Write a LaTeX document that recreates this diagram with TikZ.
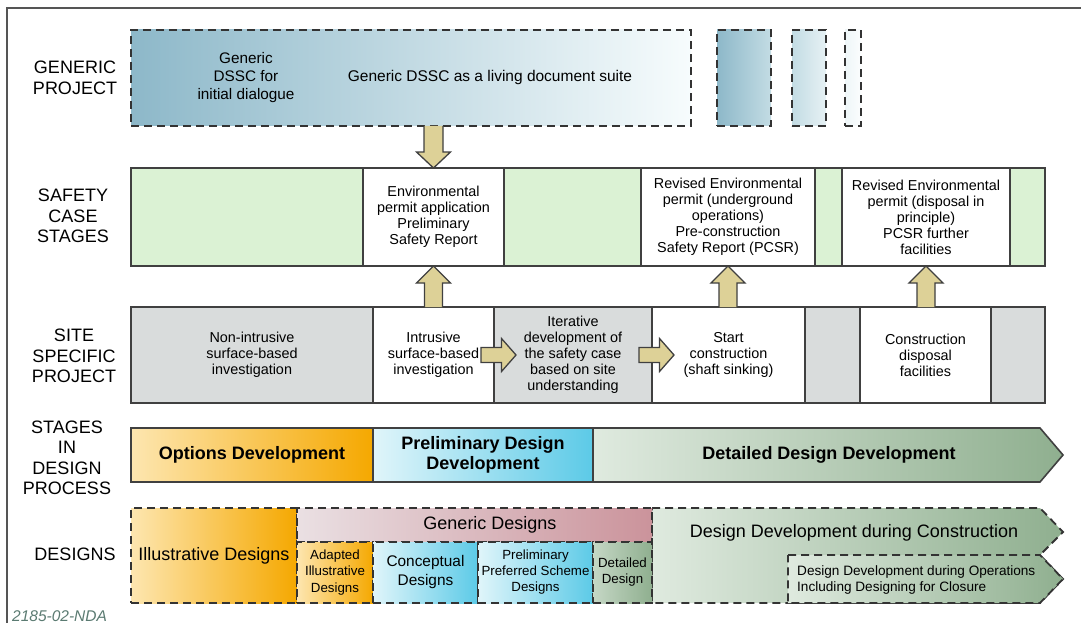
\documentclass[tikz,border=0pt]{standalone}
\usepackage{fontspec}
\setmainfont{Liberation Sans}
\usetikzlibrary{calc}
\definecolor{lineC}{HTML}{404040}
\definecolor{frameC}{HTML}{555555}
\definecolor{dashC}{HTML}{333333}
\definecolor{greenF}{HTML}{DBF2D4}
\definecolor{grayF}{HTML}{D9DCDC}
\definecolor{khaki}{HTML}{DDD197}
\definecolor{genA}{HTML}{8DB8C9}
\definecolor{genB}{HTML}{F7FCFD}
\definecolor{genC}{HTML}{C3DCE4}
\definecolor{genD}{HTML}{E6F1F4}
\definecolor{genE}{HTML}{EEF6F8}
\definecolor{genF}{HTML}{FBFDFE}
\definecolor{optA}{HTML}{FDE6B0}
\definecolor{optB}{HTML}{F5A800}
\definecolor{preA}{HTML}{E0F5FA}
\definecolor{preB}{HTML}{5CCAE7}
\definecolor{detA}{HTML}{DFEADF}
\definecolor{detB}{HTML}{8FAF8F}
\definecolor{detC}{HTML}{C5D7C5}
\definecolor{gdA}{HTML}{EAE0E3}
\definecolor{gdB}{HTML}{CB939B}
\definecolor{codeC}{HTML}{5B7B72}
\newcommand\myfs[2]{\fontsize{#1}{#2}\selectfont}
\tikzset{
  cell/.style={draw=lineC, line width=1.6pt, inner sep=0pt, outer sep=0pt, anchor=north west, align=center, font=\myfs{14.4}{16}},
  dbox/.style={draw=dashC, line width=1.8pt, dash pattern=on 8pt off 5pt, inner sep=0pt, outer sep=0pt, anchor=north west, align=center},
  rowlabel/.style={align=center, font=\myfs{18}{20.5}, inner sep=0pt},
  txt/.style={align=center, inner sep=0pt},
  blk/.style={fill=khaki, draw=lineC, line width=1.3pt, line join=miter},
}
\begin{document}
\begin{tikzpicture}[x=1pt,y=-1pt]
\useasboundingbox (0,0) rectangle (1081,623);
\fill[white] (0,0) rectangle (1081,623);
% outer frame
\draw[frameC, line width=2pt] (7,623) -- (7,8) -- (1081,8);

% row labels
\node[rowlabel] (lgen) at (75,78) {GENERIC\\PROJECT};
\node[rowlabel] (lsaf) at (73,216) {SAFETY\\CASE\\STAGES};
\node[rowlabel] (lsit) at (74,356) {SITE\\SPECIFIC\\PROJECT};
\node[rowlabel] (lsta) at (67,458) {STAGES\\IN\\DESIGN\\PROCESS};
\node[rowlabel] (ldes) at (75,554) {DESIGNS};

% generic project row
\node[dbox, minimum width=560, minimum height=96, left color=genA, right color=genB] (gen) at (131,30) {};
\node[txt, font=\myfs{15.3}{18}] (g1) at (246,78) {Generic\\DSSC for\\initial dialogue};
\node[txt, font=\myfs{15.5}{18}] (g2) at (490,77) {Generic DSSC as a living document suite};
\node[dbox, minimum width=54, minimum height=96, left color=genA, right color=genC] (gs1) at (717,30) {};
\node[dbox, minimum width=34, minimum height=96, left color=genC, right color=genD] (gs2) at (792,30) {};
\node[dbox, minimum width=16, minimum height=96, left color=genE, right color=genF] (gs3) at (845,30) {};

% safety case stages
\node[cell, fill=greenF, minimum width=232, minimum height=98] (sc1) at (131,168) {};
\node[cell, fill=white, minimum width=141, minimum height=98] (sc2) at (363,168) {Environmental\\permit application\\Preliminary\\Safety Report};
\node[cell, fill=greenF, minimum width=137, minimum height=98] (sc3) at (504,168) {};
\node[cell, fill=white, minimum width=174, minimum height=98] (sc4) at (641,168) {Revised Environmental\\permit (underground\\operations)\\Pre-construction\\Safety Report (PCSR)};
\node[cell, fill=greenF, minimum width=27, minimum height=98] (sc5) at (815,168) {};
\node[cell, fill=white, minimum width=168, minimum height=98] (sc6) at (842,168) {Revised Environmental\\permit (disposal in\\principle)\\PCSR further\\facilities};
\node[cell, fill=greenF, minimum width=35, minimum height=98] (sc7) at (1010,168) {};

% site specific project
\node[cell, fill=grayF, minimum width=242, minimum height=96] (sp1) at (131,307) {Non-intrusive\\surface-based\\investigation};
\node[cell, fill=white, minimum width=121, minimum height=96] (sp2) at (373,307) {Intrusive\\surface-based\\investigation};
\node[cell, fill=grayF, minimum width=158, minimum height=96] (sp3) at (494,307) {Iterative\\development of\\the safety case\\based on site\\understanding};
\node[cell, fill=white, minimum width=153, minimum height=96] (sp4) at (652,307) {Start\\construction\\(shaft sinking)};
\node[cell, fill=grayF, minimum width=55, minimum height=96] (sp5) at (805,307) {};
\node[cell, fill=white, minimum width=131, minimum height=96] (sp6) at (860,307) {Construction\\disposal\\facilities};
\node[cell, fill=grayF, minimum width=54, minimum height=96] (sp7) at (991,307) {};

% down arrow generic -> safety
\filldraw[blk] ($(sc2.north |- gen.south)+(-9.5,0)$) -- ($(sc2.north)+(-9.5,-16)$) -- ($(sc2.north)+(-17,-16)$) -- (sc2.north) -- ($(sc2.north)+(17,-16)$) -- ($(sc2.north)+(9.5,-16)$) -- ($(sc2.north |- gen.south)+(9.5,0)$);

% up arrows site -> safety
\foreach \t/\b in {sc2/sp2, sc4/sp4, sc6/sp6}{
  \filldraw[blk] ($(\t.south |- \b.north)+(-9,0)$) -- ($(\t.south)+(-9,17)$) -- ($(\t.south)+(-17,17)$) -- (\t.south) -- ($(\t.south)+(17,17)$) -- ($(\t.south)+(9,17)$) -- ($(\t.south |- \b.north)+(9,0)$);
}

% right arrows within site row
\foreach \d in {sp3, sp4}{
  \filldraw[blk] ($(\d.west)+(-13,-7.5)$) -- ($(\d.west)+(7.5,-7.5)$) -- ($(\d.west)+(7.5,-16.5)$) -- ($(\d.west)+(22,0)$) -- ($(\d.west)+(7.5,16.5)$) -- ($(\d.west)+(7.5,7.5)$) -- ($(\d.west)+(-13,7.5)$) -- cycle;
}

% stages in design process
\node[cell, left color=optA, right color=optB, minimum width=242, minimum height=54, font=\myfs{18}{20}\bfseries] (st1) at (131,428) {Options Development};
\node[cell, left color=preA, right color=preB, minimum width=220, minimum height=54, font=\myfs{18}{20}\bfseries] (st2) at (373,428) {Preliminary Design\\Development};
\path[draw=lineC, line width=1.6pt, left color=detA, right color=detB] (st2.north east) -- (1040,428) -- (1063,455) -- (1040,482) -- (st2.south east) -- cycle;
\node[txt, font=\myfs{18}{20}\bfseries] (st3) at (829,455) {Detailed Design Development};

% designs
\path[dbox, left color=detA, right color=detB] (652,508) -- (1040,508) -- (1063,532) -- (1040,555) -- (1063,579) -- (1040,603) -- (652,603) -- cycle;
\node[txt, font=\myfs{18}{20}] (dcon) at (854,533) {Design Development during Construction};
\path[dbox, left color=detA, right color=detB] (788,555) -- (1040,555) -- (1063,579) -- (1040,603) -- (788,603) -- cycle;
\node[txt, anchor=west, align=left, font=\myfs{13.6}{15.5}] (dops) at (797,580) {Design Development during Operations\\Including Designing for Closure};

\node[dbox, left color=optA, right color=optB, minimum width=166, minimum height=95, font=\myfs{18}{20}] (ill) at (131,508) {Illustrative Designs};
\node[dbox, left color=gdA, right color=gdB, minimum width=355, minimum height=34] (gd) at (297,508) {};
\node[txt, font=\myfs{18}{20}] (gdt) at (490,525) {Generic Designs};
\node[dbox, left color=optA, right color=optB, minimum width=76, minimum height=61, font=\myfs{13.3}{16.5}] (ad) at (297,542) {Adapted\\Illustrative\\Designs};
\node[dbox, left color=preA, right color=preB, minimum width=105, minimum height=61, font=\myfs{15.4}{19}] (cd) at (373,542) {Conceptual\\Designs};
\node[dbox, left color=preA, right color=preB, minimum width=115, minimum height=61, font=\myfs{13.3}{16}] (pd) at (478,542) {Preliminary\\Preferred Scheme\\Designs};
\node[dbox, left color=detC, right color=detB, minimum width=59, minimum height=61, font=\myfs{13.3}{16}] (dd) at (593,542) {Detailed\\Design};

% figure code
\node[anchor=base west, inner sep=0pt, text=codeC, font=\myfs{15.5}{18}\itshape] (code) at (12,621) {2185-02-NDA};
\end{tikzpicture}
\end{document}
